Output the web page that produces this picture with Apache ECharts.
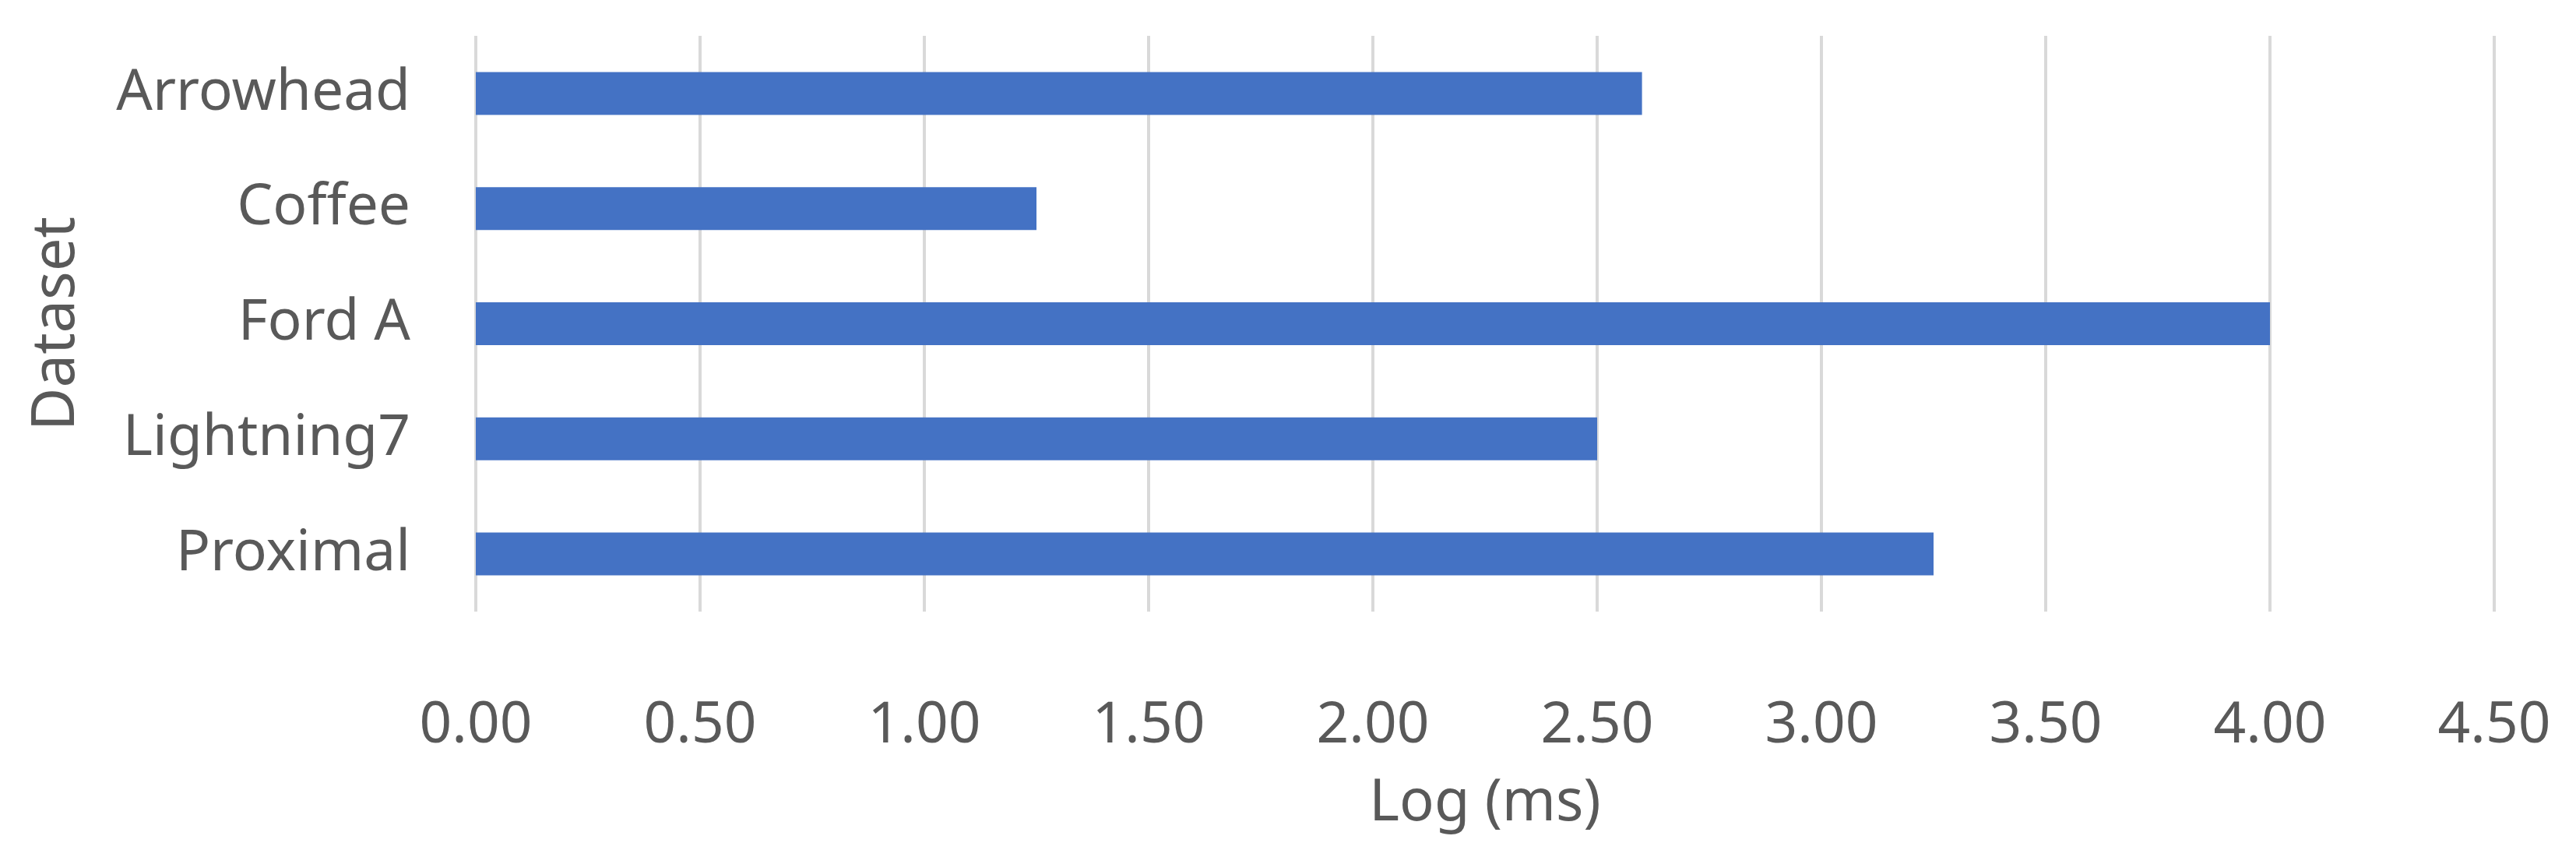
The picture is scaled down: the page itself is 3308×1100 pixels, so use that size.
<!DOCTYPE html>
<html>
<head>
<meta charset="utf-8">
<script src="https://cdn.jsdelivr.net/npm/echarts@6/dist/echarts.min.js"></script>
<style>
  html, body { margin: 0; padding: 0; background: #fff; }
  #chart { width: 3308px; height: 1100px; }
</style>
</head>
<body>
<div id="chart"></div>
<script>
// datasets, top to bottom
const datasets = ['Arrowhead', 'Coffee', 'Ford A', 'Lightning7', 'Proximal']
// log (ms) values
const logMs = [2.6, 1.25, 4.0, 2.5, 3.25]

const textColor = '#595959'
const fontFamily = '"Noto Sans", "Open Sans", sans-serif'

const chart = echarts.init(document.getElementById('chart'))
chart.setOption({
  animation: false,
  grid: {
    left: 611,
    right: 105,
    top: 46,
    bottom: 315
  },
  xAxis: {
    type: 'value',
    min: 0,
    max: 4.5,
    interval: 0.5,
    name: 'Log (ms)',
    nameLocation: 'middle',
    nameGap: 210,
    nameTextStyle: { color: textColor, fontSize: 74, fontFamily: fontFamily },
    axisLine: { show: false },
    axisTick: { show: false },
    axisLabel: {
      color: textColor,
      fontSize: 73,
      fontFamily: fontFamily,
      margin: 111,
      formatter: v => v.toFixed(2)
    },
    splitLine: { lineStyle: { color: '#D9D9D9', width: 4 } }
  },
  yAxis: {
    type: 'category',
    inverse: true,
    data: datasets,
    name: 'Dataset',
    nameLocation: 'middle',
    nameGap: 500,
    nameRotate: 90,
    nameTextStyle: { color: textColor, fontSize: 76, fontFamily: fontFamily },
    axisLine: { show: false },
    axisTick: { show: false },
    axisLabel: {
      color: textColor,
      fontSize: 73,
      fontFamily: fontFamily,
      margin: 84
    }
  },
  series: [
    {
      type: 'bar',
      data: logMs,
      barWidth: 55,
      itemStyle: { color: '#4472C4' }
    }
  ]
})
</script>
</body>
</html>
